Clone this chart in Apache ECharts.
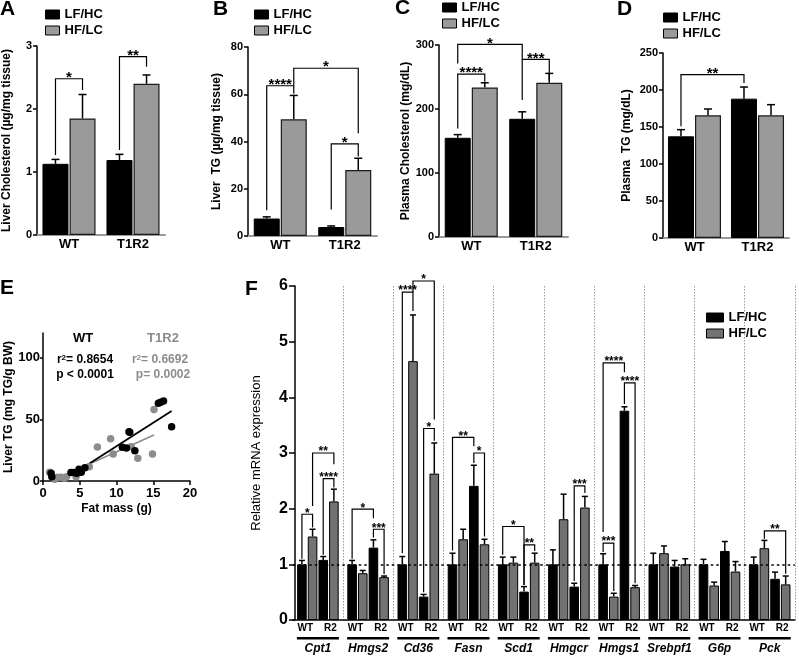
<!DOCTYPE html>
<html><head><meta charset="utf-8">
<script src="https://cdn.jsdelivr.net/npm/echarts@6/dist/echarts.min.js"></script>
<style>html,body{margin:0;padding:0;background:#fff}#c{width:799px;height:657px}</style>
</head><body><div id="c"></div>
<script>
const FONT = '"Liberation Sans", Arial, Helvetica, sans-serif';

// ---------- Panels A-D ----------
const groupCats = ['WT', 'T1R2'];
const liverCholLF = [1.13, 1.19], liverCholLFErr = [0.07, 0.09];
const liverCholHF = [1.85, 2.40], liverCholHFErr = [0.38, 0.14];
const liverTgLF = [7.4, 3.8], liverTgLFErr = [0.7, 0.45];
const liverTgHF = [49.4, 27.9], liverTgHFErr = [10.1, 5.0];
const plasmaCholLF = [155, 184.7], plasmaCholLFErr = [5, 10.9];
const plasmaCholHF = [233.7, 241], plasmaCholHFErr = [7.3, 14.6];
const plasmaTgLF = [137.4, 188.3], plasmaTgLFErr = [9, 15.7];
const plasmaTgHF = [165.8, 165.8], plasmaTgHFErr = [8.5, 14.4];
// significance: [label, fromBar, toBar, top, leftBottom, rightBottom]
const sigA = [['*', 0, 1, 2.48, 1.27, 2.30], ['**', 2, 3, 2.83, 1.35, 2.67]];
const sigB = [['****', 0, 1, 63.6, 10.9, 60.2], ['*', 1, 3, 71, 63.6, 43.5], ['*', 2, 3, 39, 11.2, 33.6]];
const sigC = [['****', 0, 1, 254.6, 169.5, 242.6], ['***', 2, 3, 277.5, 214, 245], ['*', 0, 2, 301, 271, 277.5]];
const sigD = [['**', 0, 2, 220.7, 150.9, 209.5]];

// ---------- Panel E ----------
const wtFat = [1.1, 1.2, 3.8, 4.2, 4.6, 4.9, 5.05, 5.2, 5.7, 10.8, 11.35, 11.7, 11.8, 12.5, 15.7, 16.0, 16.4, 17.5];
const wtTG  = [6.2, 3.5, 6.8, 6.8, 6.2, 9.5, 7.6, 7.0, 10.8, 27.3, 26.8, 40, 39.5, 24.6, 63, 63.8, 64.9, 44];
const t1Fat = [0.9, 1.6, 2.0, 2.5, 2.9, 3.2, 4.5, 6.3, 7.4, 9.2, 9.55, 12.0, 12.9, 14.9, 15.1];
const t1TG  = [7.0, 1.4, 3.0, 3.0, 2.2, 3.5, 3.4, 11.6, 27.6, 34.3, 21.9, 27.8, 18.4, 21.8, 58.0];
const wtFitLine = [[6.0, 13.0], [17.5, 56.8]];
const t1FitLine = [[6.0, 13.0], [15.1, 37.3]];
const eTicksY = [0, 50, 100];

// ---------- Panel F ----------
const genes = ['Cpt1', 'Hmgs2', 'Cd36', 'Fasn', 'Scd1', 'Hmgcr', 'Hmgs1', 'Srebpf1', 'G6p', 'Pck'];
const subLabels = ['WT', 'R2'];
const wtLF    = [1.0, 1.0, 1.0, 1.0, 1.0, 1.0, 1.0, 1.0, 1.0, 1.0];
const wtLFErr = [0.07, 0.07, 0.14, 0.20, 0.13, 0.26, 0.19, 0.20, 0.09, 0.13];
const wtHF    = [1.50, 0.84, 4.65, 1.45, 1.03, 1.81, 0.42, 1.20, 0.62, 1.29];
const wtHFErr = [0.13, 0.05, 0.83, 0.18, 0.10, 0.45, 0.06, 0.13, 0.06, 0.14];
const r2LF    = [1.08, 1.30, 0.42, 2.41, 0.51, 0.60, 3.76, 0.96, 1.24, 0.74];
const r2LFErr = [0.06, 0.14, 0.04, 0.37, 0.09, 0.06, 0.07, 0.11, 0.17, 0.12];
const r2HF    = [2.13, 0.77, 2.63, 1.36, 1.03, 2.02, 0.59, 1.00, 0.87, 0.64];
const r2HFErr = [0.22, 0.02, 0.55, 0.09, 0.17, 0.20, 0.03, 0.10, 0.18, 0.15];
const sigF = [
  ['*', 0, 1, 1.90, 1.10, 1.66], ['****', 2, 3, 2.54, 1.17, 2.38], ['**', 1, 3, 3.0, 2.05, 2.80],
  ['*', 4, 6, 1.99, 1.10, 1.83], ['***', 6, 7, 1.63, 1.48, 0.82],
  ['****', 8, 9, 5.89, 1.20, 5.55], ['*', 10, 11, 3.44, 0.50, 3.22], ['*', 9, 11, 6.09, 5.89, 3.60],
  ['**', 12, 14, 3.28, 1.25, 3.12], ['*', 14, 15, 3.0, 2.82, 1.50],
  ['*', 16, 18, 1.68, 1.17, 0.63], ['**', 18, 19, 1.35, 0.63, 1.24],
  ['***', 22, 23, 2.41, 0.70, 2.28],
  ['***', 24, 25, 1.38, 1.22, 0.52], ['****', 24, 26, 4.62, 1.58, 4.45], ['****', 26, 27, 4.26, 3.88, 0.66],
  ['**', 37, 39, 1.60, 1.46, 0.83]
];

// ---------- helpers ----------
const bold = s => `bold ${s}px ${FONT}`;
const GRAY_AD = '#9a9a9a', GRAY_F = '#727272', GRAY_E = '#8c8c8c';

function errRender(nPer, step, cap) {
  return function (params, api) {
    const cat = api.value(0), v = api.value(1), e = api.value(2), s = api.value(3);
    const off = (s - (nPer - 1) / 2) * step;
    const pb = api.coord([cat, v]), pt = api.coord([cat, v + e]);
    const x = pb[0] + off;
    return { type: 'group', children: [
      { type: 'line', shape: { x1: x, y1: pb[1], x2: x, y2: pt[1] }, style: { stroke: '#000', lineWidth: 1.5 } },
      { type: 'line', shape: { x1: x - cap, y1: pt[1], x2: x + cap, y2: pt[1] }, style: { stroke: '#000', lineWidth: 1.5 } }
    ]};
  };
}
function sigRender(nPer, step, labels, fs) {
  return function (params, api) {
    const top = api.value(1), from = api.value(2), to = api.value(3), lb = api.value(4), rb = api.value(5);
    const xOf = b => api.coord([Math.floor(b / nPer), 0])[0] + ((b % nPer) - (nPer - 1) / 2) * step;
    const yOf = v => api.coord([0, v])[1];
    const x1 = xOf(from), x2 = xOf(to), yt = yOf(top);
    return { type: 'group', children: [
      { type: 'polyline', shape: { points: [[x1, yOf(lb)], [x1, yt], [x2, yt], [x2, yOf(rb)]] },
        style: { stroke: '#000', lineWidth: 1.2, fill: 'none' } },
      { type: 'text', style: { text: labels[params.dataIndex], x: (x1 + x2) / 2, y: yt - 1,
        align: 'center', verticalAlign: 'middle', font: bold(fs), fill: '#000' } }
    ]};
  };
}
function mkLegend(left, top, hfColor, w, h, gap) {
  return { left, top, orient: 'vertical', padding: 0, itemWidth: w, itemHeight: h, itemGap: gap,
    selectedMode: false,
    textStyle: { fontFamily: FONT, fontWeight: 'bold', fontSize: 13, color: '#000' },
    data: [
      { name: 'LF/HC', icon: 'rect', itemStyle: { color: '#000', borderColor: '#000', borderWidth: 1 } },
      { name: 'HF/LC', icon: 'rect', itemStyle: { color: hfColor, borderColor: '#000', borderWidth: 1 } }
    ] };
}
function valueAxisY(grid, min, max, interval, name, nameGap, extra) {
  return Object.assign({
    type: 'value', gridIndex: grid, min, max, interval,
    name, nameLocation: 'middle', nameGap,
    nameTextStyle: { fontFamily: FONT, fontWeight: 'bold', fontSize: 12, color: '#000' },
    axisLine: { show: true, lineStyle: { color: '#000', width: 1.5 } },
    axisTick: { show: true, length: 4, lineStyle: { color: '#000', width: 1.5 } },
    axisLabel: { fontFamily: FONT, fontWeight: 'bold', fontSize: 11, color: '#000', margin: 5 },
    splitLine: { show: false }
  }, extra || {});
}

const panels = [
  { lf: liverCholLF, lfE: liverCholLFErr, hf: liverCholHF, hfE: liverCholHFErr, sig: sigA, max: 3, interval: 1,
    name: 'Liver Cholesterol (µg/mg tissue)', nameGap: 24, grid: { left: 37, top: 46, width: 128, height: 189 }, leg: [45, 8] },
  { lf: liverTgLF, lfE: liverTgLFErr, hf: liverTgHF, hfE: liverTgHFErr, sig: sigB, max: 80, interval: 20,
    name: 'Liver  TG (µg/mg tissue)', nameGap: 25, grid: { left: 248, top: 47, width: 129, height: 189 }, leg: [254, 8] },
  { lf: plasmaCholLF, lfE: plasmaCholLFErr, hf: plasmaCholHF, hfE: plasmaCholHFErr, sig: sigC, max: 300, interval: 100,
    name: 'Plasma Cholesterol (mg/dL)', nameGap: 24, grid: { left: 439, top: 45, width: 129, height: 192 }, leg: [442, 1] },
  { lf: plasmaTgLF, lfE: plasmaTgLFErr, hf: plasmaTgHF, hfE: plasmaTgHFErr, sig: sigD, max: 250, interval: 50,
    name: 'Plasma  TG (mg/dL)', nameGap: 30, grid: { left: 663, top: 53, width: 126, height: 185 }, leg: [663, 11] }
];

const grids = [], xAxes = [], yAxes = [], series = [], legends = [];
const AD_W = 26, AD_STEP = 26 * 1.04;
panels.forEach((p, i) => {
  grids.push(Object.assign({ containLabel: false }, p.grid));
  xAxes.push({ type: 'category', gridIndex: i, data: groupCats,
    axisLine: { show: true, lineStyle: { color: '#999', width: 2 } }, axisTick: { show: false },
    axisLabel: { fontFamily: FONT, fontWeight: 'bold', fontSize: 13, color: '#000', margin: 3 } });
  yAxes.push(valueAxisY(i, 0, p.max, p.interval, p.name, p.nameGap));
  series.push({ type: 'bar', name: 'LF/HC', xAxisIndex: i, yAxisIndex: i, data: p.lf, barWidth: AD_W, barGap: '4%',
    itemStyle: { color: '#000', borderColor: '#000', borderWidth: 1 } });
  series.push({ type: 'bar', name: 'HF/LC', xAxisIndex: i, yAxisIndex: i, data: p.hf, barWidth: AD_W, barGap: '4%',
    itemStyle: { color: GRAY_AD, borderColor: '#1a1a1a', borderWidth: 1.2 } });
  const errData = [];
  groupCats.forEach((c, k) => { errData.push([k, p.lf[k], p.lfE[k], 0]); errData.push([k, p.hf[k], p.hfE[k], 1]); });
  series.push({ type: 'custom', xAxisIndex: i, yAxisIndex: i, data: errData, encode: { x: 0, y: 1 }, z: 1,
    renderItem: errRender(2, AD_STEP, 4), silent: true, clip: false });
  series.push({ type: 'custom', xAxisIndex: i, yAxisIndex: i, z: 5,
    data: p.sig.map(s => [Math.floor(s[1] / 2), s[3], s[1], s[2], s[4], s[5]]), encode: { x: 0, y: 1 },
    renderItem: sigRender(2, AD_STEP, p.sig.map(s => s[0]), 15), silent: true, clip: false });
  legends.push(mkLegend(p.leg[0], p.leg[1], GRAY_AD, 14, 9, 3));
});

// Panel E (grid 4)
grids.push({ left: 43, top: 333, width: 147, height: 148 });
xAxes.push({ type: 'value', gridIndex: 4, min: 0, max: 20, interval: 5,
  name: 'Fat mass (g)', nameLocation: 'middle', nameGap: 22,
  nameTextStyle: { fontFamily: FONT, fontWeight: 'bold', fontSize: 12, color: '#000' },
  axisLine: { show: true, lineStyle: { color: '#000', width: 1.5 } },
  axisTick: { show: true, length: 4, lineStyle: { color: '#000', width: 1.5 } },
  axisLabel: { fontFamily: FONT, fontWeight: 'bold', fontSize: 13, color: '#000', margin: 6 },
  splitLine: { show: false } });
yAxes.push(valueAxisY(4, 0, 120, 50, 'Liver TG (mg TG/g BW)', 27, {
  axisLabel: { fontFamily: FONT, fontWeight: 'bold', fontSize: 13, color: '#000', margin: 3, customValues: eTicksY },
  axisTick: { show: true, length: 3, lineStyle: { color: '#000', width: 1.5 }, customValues: eTicksY } }));
series.push({ type: 'line', xAxisIndex: 4, yAxisIndex: 4, data: t1FitLine, symbol: 'none',
  lineStyle: { color: GRAY_E, width: 1.5 }, z: 1 });
series.push({ type: 'line', xAxisIndex: 4, yAxisIndex: 4, data: wtFitLine, symbol: 'none',
  lineStyle: { color: '#000', width: 1.8 }, z: 1 });
series.push({ type: 'scatter', name: 'T1R2', xAxisIndex: 4, yAxisIndex: 4, symbolSize: 7.5,
  data: t1Fat.map((x, k) => [x, t1TG[k]]), itemStyle: { color: GRAY_E, opacity: 1 }, z: 2 });
series.push({ type: 'scatter', name: 'WT', xAxisIndex: 4, yAxisIndex: 4, symbolSize: 7.5,
  data: wtFat.map((x, k) => [x, wtTG[k]]), itemStyle: { color: '#000', opacity: 1 }, z: 3 });

// Panel F (grid 5)
grids.push({ left: 292.8, top: 286, width: 502, height: 334 });
xAxes.push({ type: 'category', gridIndex: 5, data: genes, position: 'bottom', offset: 0,
  axisLine: { show: true, lineStyle: { color: '#000', width: 1.5 } }, axisTick: { show: false },
  axisLabel: { interval: 0, margin: 17, color: '#000',
    formatter: v => '{u|}\n{g|' + v + '}',
    rich: { u: { width: 42, height: 2.5, lineHeight: 2.5, backgroundColor: '#000' },
            g: { fontFamily: FONT, fontWeight: 'bold', fontStyle: 'italic', fontSize: 12, lineHeight: 18, color: '#000' } } },
  splitLine: { show: true, interval: (i) => i > 0, lineStyle: { color: '#9a9a9a', width: 1, type: [1.5, 1.5] } } });
const fSubData = [];
genes.forEach(() => subLabels.forEach(s => fSubData.push(s)));
xAxes.push({ type: 'category', gridIndex: 5, data: fSubData, position: 'bottom', offset: 0,
  axisLine: { show: false }, axisTick: { show: false }, splitLine: { show: false },
  axisLabel: { interval: 0, margin: 3, fontFamily: FONT, fontWeight: 'bold', fontSize: 10, color: '#000' } });
yAxes.push(valueAxisY(5, 0, 6, 1, 'Relative mRNA expression', 32, {
  offset: -2.2,
  nameTextStyle: { fontFamily: FONT, fontWeight: 'normal', fontSize: 13, color: '#000' },
  axisTick: { show: true, length: 6, lineStyle: { color: '#000', width: 1.5 } },
  axisLabel: { fontFamily: FONT, fontWeight: 'bold', fontSize: 16, color: '#000', margin: 7 } }));
const F_W = 9.6, F_STEP = 9.6 * 1.11;
const fSets = [[wtLF, wtLFErr, '#000', 'LF/HC'], [wtHF, wtHFErr, GRAY_F, 'HF/LC'], [r2LF, r2LFErr, '#000', 'LF/HC'], [r2HF, r2HFErr, GRAY_F, 'HF/LC']];
series.push({ type: 'scatter', xAxisIndex: 5, yAxisIndex: 5, data: [], z: 1, silent: true,
  markLine: { silent: true, symbol: ['none', 'none'], label: { show: false }, animation: false,
    lineStyle: { type: [2.5, 3], color: '#000', width: 1.5 }, data: [{ yAxis: 1 }] } });
fSets.forEach((fs, s) => {
  series.push({ type: 'bar', name: fs[3], xAxisIndex: 5, yAxisIndex: 5, data: fs[0], barWidth: F_W, barGap: '11%', z: 2,
    itemStyle: { color: fs[2], borderColor: '#000', borderWidth: 1 } });
});
const fErrData = [];
genes.forEach((g, k) => fSets.forEach((fs, s) => fErrData.push([k, fs[0][k], fs[1][k], s])));
series.push({ type: 'custom', xAxisIndex: 5, yAxisIndex: 5, data: fErrData, encode: { x: 0, y: 1 }, z: 1,
  renderItem: errRender(4, F_STEP, 3), silent: true, clip: false });
series.push({ type: 'custom', xAxisIndex: 5, yAxisIndex: 5, z: 5,
  data: sigF.map(s => [Math.floor(s[1] / 4), s[3], s[1], s[2], s[4], s[5]]), encode: { x: 0, y: 1 },
  renderItem: sigRender(4, F_STEP, sigF.map(s => s[0]), 12), silent: true, clip: false });
legends.push(mkLegend(706, 311, GRAY_F, 17, 9, 3));

const letter = (t, x, y) => ({ type: 'text', x, y, style: { text: t, font: bold(21), fill: '#000' } });
const eText = (t, x, y, color, fs) => ({ type: 'text', x, y,
  style: { text: t, font: bold(fs), fill: color, align: 'center', verticalAlign: 'middle',
    rich: { b: { font: bold(fs), fill: color }, s: { font: bold(8), fill: color, verticalAlign: 'top' } } } });

const option = {
  animation: false,
  grid: grids, xAxis: xAxes, yAxis: yAxes, series, legend: legends,
  graphic: [
    letter('A', 0, -1), letter('B', 213, -1), letter('C', 395, -2), letter('D', 617, -1),
    letter('E', 0, 278), letter('F', 245, 279),
    eText('WT', 83, 338, '#000', 13), eText('T1R2', 163, 338, GRAY_E, 13),
    eText('{b|r}{s|2}{b|= 0.8654}', 85, 360, '#000', 12), eText('p < 0.0001', 85, 375, '#000', 12),
    eText('{b|r}{s|2}{b|= 0.6692}', 160, 360, GRAY_E, 12), eText('p= 0.0002', 163, 375, GRAY_E, 12)
  ]
};
const chart = echarts.init(document.getElementById('c'));
chart.setOption(option);
</script>
</body></html>
